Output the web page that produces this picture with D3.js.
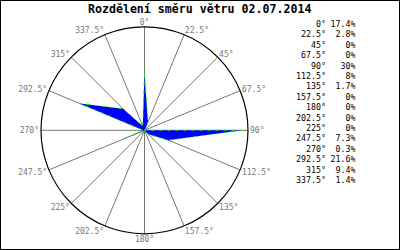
<!DOCTYPE html>
<html><head><meta charset="utf-8">
<script src="https://cdn.jsdelivr.net/npm/d3@7"></script>
<style>body{margin:0;background:#fff}svg{display:block}</style>
</head><body>
<svg id="c" width="400" height="250"></svg>
<script>
const title = "Rozdělení směru větru 02.07.2014";
const directions = [0,22.5,45,67.5,90,112.5,135,157.5,180,202.5,225,247.5,270,292.5,315,337.5];
const dirLabels = ["0°","22.5°","45°","67.5°","90°","112.5°","135°","157.5°","180°","202.5°","225°","247.5°","270°","292.5°","315°","337.5°"];
const percents = [17.4,2.8,0,0,30,8,1.7,0,0,0,0,7.3,0.3,21.6,9.4,1.4];
const pctLabels = ["17.4%","2.8%","0%","0%","30%","8%","1.7%","0%","0%","0%","0%","7.3%","0.3%","21.6%","9.4%","1.4%"];

const svg = d3.select("#c");
const W = 400, H = 250, cx = 144.5, cy = 130.3, R = 103.5;
const font = "'DejaVu Sans Mono', monospace";

svg.append("rect").attr("x",0.5).attr("y",0.5).attr("width",W-1).attr("height",H-1)
  .attr("fill","#fff").attr("stroke","#000").attr("stroke-width",1);

svg.append("text").attr("x",199.7).attr("y",12.7).attr("text-anchor","middle")
  .attr("font-family",font).attr("font-weight","bold").attr("font-size","11.6px")
  .attr("fill","#000").text(title);

const ang = d3.scaleLinear().domain([0,360]).range([0,2*Math.PI]);
const rad = d3.scaleLinear().domain([0,32]).range([0,R]);
const g = svg.append("g").attr("transform",`translate(${cx},${cy})`);

// spokes
g.selectAll("line.spoke").data(directions).join("line").attr("class","spoke")
  .attr("x1",0).attr("y1",0)
  .attr("x2",d=>R*Math.sin(ang(d))).attr("y2",d=>-R*Math.cos(ang(d)))
  .attr("stroke","#777").attr("stroke-width",1);

// polygon
const line = d3.lineRadial().angle((d,i)=>ang(directions[i])).radius(d=>rad(d)).curve(d3.curveLinearClosed);
g.append("path").attr("d",line(percents)).attr("fill","#0000ff")
  .attr("stroke","#00ee00").attr("stroke-width",1).attr("stroke-dasharray","3,5");

// circle
g.append("circle").attr("r",R).attr("fill","none").attr("stroke","#000").attr("stroke-width",1.2);

// labels
const LR = R + 2, th = 6;
g.selectAll("text.lab").data(directions).join("text").attr("class","lab")
  .attr("font-family",font).attr("font-size","8px").attr("fill","#777")
  .attr("text-anchor",d=>{const s=Math.sin(ang(d)); return s>0.01?"start":(s<-0.01?"end":"middle");})
  .attr("x",d=>LR*Math.sin(ang(d)))
  .attr("y",d=>{const c=Math.cos(ang(d)); return -LR*c + th*(1-c)/2;})
  .text((d,i)=>dirLabels[i]);

// legend
const ly = d3.scaleLinear().domain([0,15]).range([24,180]);
const leg = svg.append("g").attr("font-family",font).attr("font-size","8.3px").attr("fill","#000");
leg.selectAll("text.ld").data(dirLabels).join("text").attr("class","ld")
  .attr("x",326).attr("y",(d,i)=>ly(i)+3).attr("text-anchor","end").text(d=>d);
leg.selectAll("text.lp").data(pctLabels).join("text").attr("class","lp")
  .attr("x",355.5).attr("y",(d,i)=>ly(i)+3).attr("text-anchor","end").text(d=>d);
</script>
</body></html>
